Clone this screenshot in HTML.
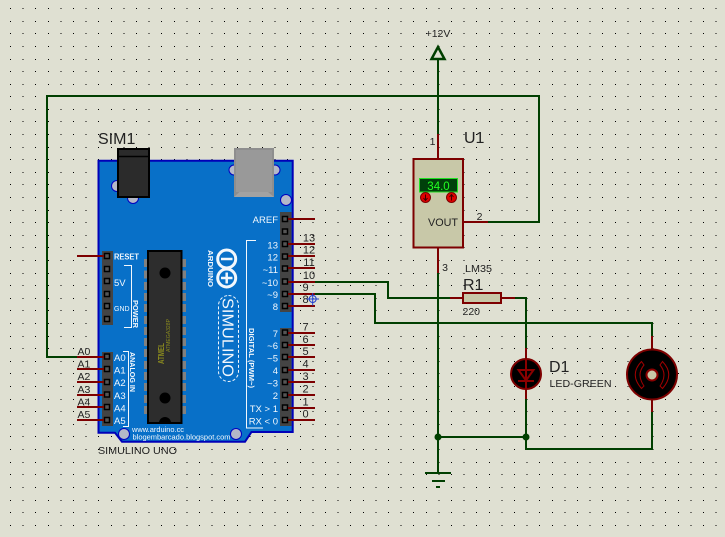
<!DOCTYPE html>
<html><head><meta charset="utf-8"><style>
html,body{margin:0;padding:0;background:#dfe0d2}
svg{display:block}
text{font-family:"Liberation Sans",sans-serif;fill:#222}
.w text{fill:#f2f7fc}
.g{fill:none;stroke:#003f00;stroke-width:2;shape-rendering:crispEdges}
.r{fill:none;stroke:#7d0000;stroke-width:2;shape-rendering:crispEdges}
</style></head><body>
<svg width="725" height="537" viewBox="0 0 725 537" xmlns="http://www.w3.org/2000/svg">
<rect width="725" height="537" fill="#dfe0d2"/>
<path shape-rendering="crispEdges" stroke="#000" stroke-width="1" stroke-dasharray="1 11.6" fill="none" d="M10 8.5H725M10 21.5H725M10 33.5H725M10 46.5H725M10 59.5H725M10 71.5H725M10 84.5H725M10 96.5H725M10 109.5H725M10 121.5H725M10 134.5H725M10 147.5H725M10 159.5H725M10 172.5H725M10 184.5H725M10 197.5H725M10 210.5H725M10 222.5H725M10 235.5H725M10 247.5H725M10 260.5H725M10 273.5H725M10 285.5H725M10 298.5H725M10 310.5H725M10 323.5H725M10 336.5H725M10 348.5H725M10 361.5H725M10 373.5H725M10 386.5H725M10 399.5H725M10 411.5H725M10 424.5H725M10 436.5H725M10 449.5H725M10 462.5H725M10 474.5H725M10 487.5H725M10 500.5H725M10 512.5H725M10 525.5H725"/>

<!-- wires -->
<g class="g">
<path d="M77 357H47V96H539V222H488"/>
<path d="M438 59V134"/>
<path d="M438 273V473"/>
<path d="M315 282H388V298H450"/>
<path d="M515 298H526V348"/>
<path d="M315 294H375V323H652V336"/>
<path d="M526 399V449H652V412"/>
<path d="M438 437H526"/>
<path d="M425 473H451M432 481H445M436 487H440"/>
</g>
<path d="M438 47L444.500 59H431.500Z" fill="none" stroke="#003f00" stroke-width="2.500"/>
<circle cx="438" cy="437" r="3.500" fill="#003f00"/>
<circle cx="526" cy="437" r="3.500" fill="#003f00"/>

<!-- board -->
<path d="M98.500 160.700H292.700V432H251.500L245 441.700H122L115 432.700H98.500Z" fill="#0870c8" stroke="#0000b8" stroke-width="2"/>
<g fill="#b4b8c8" stroke="#0000c0" stroke-width="1">
<circle cx="117" cy="186" r="5.500"/><circle cx="133" cy="198" r="5.500"/>
<circle cx="234" cy="170" r="5"/><circle cx="275" cy="170" r="5"/>
<circle cx="286" cy="200" r="5.500"/><circle cx="124" cy="434" r="5.500"/><circle cx="236" cy="434" r="5.500"/>
</g>
<!-- jack -->
<rect x="118" y="149" width="31" height="48" fill="#2b2b2b" stroke="#000" stroke-width="2"/>
<path d="M118 156.500H149" stroke="#000" stroke-width="1.500"/>
<!-- usb -->
<rect x="234" y="148" width="40" height="49" fill="#8e8e8e"/>
<rect x="236" y="150" width="36" height="42" fill="#999"/>
<path d="M234 197L239.500 192H268L274 197Z" fill="#a2a2a2"/>
<!-- chip -->
<g fill="#808080">
<rect x="144" y="259" width="4" height="8"/><rect x="144" y="270.500" width="4" height="8"/><rect x="144" y="282" width="4" height="8"/><rect x="144" y="293" width="4" height="8"/><rect x="144" y="304" width="4" height="8"/><rect x="144" y="316" width="4" height="8"/><rect x="144" y="327" width="4" height="8"/><rect x="144" y="338" width="4" height="8"/><rect x="144" y="349" width="4" height="8"/><rect x="144" y="361" width="4" height="8"/><rect x="144" y="372" width="4" height="8"/><rect x="144" y="383" width="4" height="8"/><rect x="144" y="395" width="4" height="8"/><rect x="144" y="406" width="4" height="8"/>
<rect x="182" y="259" width="4" height="8"/><rect x="182" y="270.500" width="4" height="8"/><rect x="182" y="282" width="4" height="8"/><rect x="182" y="293" width="4" height="8"/><rect x="182" y="304" width="4" height="8"/><rect x="182" y="316" width="4" height="8"/><rect x="182" y="327" width="4" height="8"/><rect x="182" y="338" width="4" height="8"/><rect x="182" y="349" width="4" height="8"/><rect x="182" y="361" width="4" height="8"/><rect x="182" y="372" width="4" height="8"/><rect x="182" y="383" width="4" height="8"/><rect x="182" y="395" width="4" height="8"/><rect x="182" y="406" width="4" height="8"/>
</g>
<rect x="148" y="251" width="33.500" height="172" fill="#2d2d2d" stroke="#000" stroke-width="2"/>
<circle cx="165" cy="273" r="5.500" fill="#000"/><circle cx="165" cy="398" r="5.500" fill="#000"/>
<path d="M159 423A6 6 0 0 1 171 423Z" fill="#000"/>
<text transform="translate(164,364) rotate(-90)" font-size="8.500" font-weight="bold" textLength="21" lengthAdjust="spacingAndGlyphs" style="fill:#8c8c1e">ATMEL</text>
<text transform="translate(170,352) rotate(-90)" font-size="5.500" textLength="33" lengthAdjust="spacingAndGlyphs" style="fill:#8c8c1e">ATMEGA328P</text>
<!-- headers -->
<g fill="#444">
<rect x="102" y="251" width="11" height="74"/><rect x="102" y="352" width="11" height="74"/>
<rect x="280" y="212" width="11.500" height="100"/><rect x="280" y="328" width="11.500" height="98"/>
</g>
<g fill="#555" stroke="#000" stroke-width="1.500">
<rect x="104.500" y="253.500" width="5" height="5"/><rect x="104.500" y="266.500" width="5" height="5"/><rect x="104.500" y="278.500" width="5" height="5"/><rect x="104.500" y="291.500" width="5" height="5"/><rect x="104.500" y="303.500" width="5" height="5"/><rect x="104.500" y="316.500" width="5" height="5"/>
<rect x="104.500" y="354" width="5" height="5"/><rect x="104.500" y="366.500" width="5" height="5"/><rect x="104.500" y="379.500" width="5" height="5"/><rect x="104.500" y="392" width="5" height="5"/><rect x="104.500" y="404.500" width="5" height="5"/><rect x="104.500" y="417.500" width="5" height="5"/>
<rect x="282.500" y="216.500" width="5" height="5"/><rect x="282.500" y="229" width="5" height="5"/><rect x="282.500" y="241.500" width="5" height="5"/><rect x="282.500" y="254" width="5" height="5"/><rect x="282.500" y="266" width="5" height="5"/><rect x="282.500" y="279" width="5" height="5"/><rect x="282.500" y="291.500" width="5" height="5"/><rect x="282.500" y="303.500" width="5" height="5"/>
<rect x="282.500" y="330" width="5" height="5"/><rect x="282.500" y="342.500" width="5" height="5"/><rect x="282.500" y="354.500" width="5" height="5"/><rect x="282.500" y="367.500" width="5" height="5"/><rect x="282.500" y="379.500" width="5" height="5"/><rect x="282.500" y="392.500" width="5" height="5"/><rect x="282.500" y="405" width="5" height="5"/><rect x="282.500" y="417.500" width="5" height="5"/>
</g>
<!-- pins -->
<g class="r">
<path d="M77 256H104M77 357H104M77 369H104M77 382H104M77 395H104M77 407H104M77 420H104"/>
<path d="M288 219H315M288 244H315M288 256H315M288 268H315M288 282H315M288 294H315M288 306H315"/>
<path d="M288 333H315M288 345H315M288 357H315M288 370H315M288 382H315M288 395H315M288 408H315M288 420H315"/>
<path d="M438 134V159M438 248V273M463 222H488"/>
<path d="M450 298H463M501 298H515M526 348V399M652 336V349M652 400V412"/>
</g>
<!-- board labels -->
<g class="w">
<g fill="none" stroke="#f2f7fc" stroke-width="1">
<path d="M124 265.500H131.500V327.500H124"/>
<path d="M123 351.500H128.500V426.500H123"/>
<path d="M256 240.500H246.500V428H263"/>
<rect x="218.500" y="295.500" width="20" height="86" rx="10" stroke-dasharray="3 2"/>
<circle cx="226.700" cy="259" r="9" stroke-width="3"/><circle cx="226.700" cy="278" r="9" stroke-width="3"/>
<path d="M221 259H232.500M221 278H232.500M226.700 272.500V283.500" stroke-width="2.500"/>
</g>
<text x="114" y="259.500" font-size="8" font-weight="bold" textLength="25" lengthAdjust="spacingAndGlyphs">RESET</text>
<text x="114" y="286" font-size="9.500">5V</text>
<text x="114" y="311" font-size="7">GND</text>
<text transform="translate(133,300) rotate(90)" font-size="7" font-weight="bold" textLength="28" lengthAdjust="spacingAndGlyphs">POWER</text>
<text x="114" y="361" font-size="9.500">A0</text><text x="114" y="373.500" font-size="9.500">A1</text><text x="114" y="386" font-size="9.500">A2</text><text x="114" y="399" font-size="9.500">A3</text><text x="114" y="411.500" font-size="9.500">A4</text><text x="114" y="424" font-size="9.500">A5</text>
<text transform="translate(130,352) rotate(90)" font-size="7" font-weight="bold" textLength="40" lengthAdjust="spacingAndGlyphs">ANALOG IN</text>
<text x="132" y="432" font-size="7" textLength="52" lengthAdjust="spacingAndGlyphs">www.arduino.cc</text>
<text x="132.500" y="439.500" font-size="7" textLength="98" lengthAdjust="spacingAndGlyphs">blogembarcado.blogspot.com</text>
<text transform="translate(208,250) rotate(90)" font-size="7" font-weight="bold" textLength="37" lengthAdjust="spacingAndGlyphs">ARDUINO</text>
<text transform="translate(222.500,298) rotate(90)" font-size="16" textLength="79" lengthAdjust="spacingAndGlyphs">SIMULINO</text>
<text transform="translate(249,328) rotate(90)" font-size="7" font-weight="bold" textLength="60" lengthAdjust="spacingAndGlyphs">DIGITAL (PWM~)</text>
<g font-size="9.500" text-anchor="end">
<text x="278" y="223">AREF</text><text x="278" y="248.500">13</text><text x="278" y="260.500">12</text><text x="278" y="273">~11</text><text x="278" y="286">~10</text><text x="278" y="298">~9</text><text x="278" y="310">8</text>
<text x="278" y="337">7</text><text x="278" y="349">~6</text><text x="278" y="361.500">~5</text><text x="278" y="374">4</text><text x="278" y="386.500">~3</text><text x="278" y="399">2</text><text x="278" y="412">TX &gt; 1</text><text x="278" y="424.500">RX &lt; 0</text>
</g>
</g>
<!-- outer labels -->
<text x="98" y="144" font-size="16">SIM1</text>
<text x="98" y="454" font-size="10.500" textLength="79" lengthAdjust="spacingAndGlyphs">SIMULINO UNO</text>
<g font-size="10.500">
<text x="77.500" y="355">A0</text><text x="77.500" y="367.500">A1</text><text x="77.500" y="380">A2</text><text x="77.500" y="393">A3</text><text x="77.500" y="405.500">A4</text><text x="77.500" y="418">A5</text>
</g>
<g font-size="11" text-anchor="middle">
<text x="309" y="241.500">13</text><text x="309" y="253.500">12</text><text x="309" y="266">11</text><text x="309" y="279">10</text><text x="305.500" y="291">9</text><text x="305.500" y="303">8</text>
<text x="305.500" y="330.700">7</text><text x="305.500" y="343">6</text><text x="305.500" y="355">5</text><text x="305.500" y="367.500">4</text><text x="305.500" y="380">3</text><text x="305.500" y="392.700">2</text><text x="305.500" y="405.500">1</text><text x="305.500" y="417.700">0</text>
</g>
<!-- cursor -->
<g fill="none" stroke="#2040d0" stroke-width="1"><circle cx="312.700" cy="299" r="3.500"/><path d="M306.500 299H319M312.700 293V305.500"/></g>
<!-- U1 -->
<rect x="413.500" y="159" width="49.500" height="88.500" fill="#c8c8a8" stroke="#7d0000" stroke-width="2"/>
<rect x="419.500" y="178.500" width="38" height="13.500" fill="#00400a" stroke="#22e022" stroke-width="1"/>
<text x="438.500" y="190" font-size="11.500" text-anchor="middle" style="fill:#22ff22">34.0</text>
<g fill="#e00000" stroke="#7d0000" stroke-width="1"><circle cx="425.500" cy="197.500" r="5"/><circle cx="451.500" cy="197.500" r="5"/></g>
<path d="M425.500 194.500V200M423.500 198L425.500 200.500L427.500 198M451.500 200.500V195M449.500 197L451.500 194.500L453.500 197" fill="none" stroke="#400000" stroke-width="1"/>
<text x="428" y="226" font-size="11" textLength="30" lengthAdjust="spacingAndGlyphs">VOUT</text>
<text x="464" y="143" font-size="16">U1</text>
<text x="432.500" y="145" font-size="10.500" text-anchor="middle">1</text>
<text x="479.500" y="220" font-size="10.500" text-anchor="middle">2</text>
<text x="445" y="271" font-size="10.500" text-anchor="middle">3</text>
<text x="438" y="37" font-size="10.500" text-anchor="middle">+12V</text>
<text x="465" y="272" font-size="10.500" textLength="27" lengthAdjust="spacingAndGlyphs">LM35</text>
<!-- R1 -->
<rect x="463" y="293" width="38" height="10" fill="#c8c8a8" stroke="#7d0000" stroke-width="2"/>
<text x="463" y="290" font-size="16">R1</text>
<text x="462.500" y="315" font-size="10.500">220</text>
<!-- LED -->
<circle cx="526" cy="374" r="15" fill="#000" stroke="#7d0000" stroke-width="2"/>
<path d="M526 359V389M518.500 370H533.500L526 380.500ZM518 381H534" fill="none" stroke="#8a0000" stroke-width="2"/>
<text x="549" y="372" font-size="16">D1</text>
<text x="549.500" y="387" font-size="10.500" textLength="62" lengthAdjust="spacingAndGlyphs">LED-GREEN</text>
<!-- motor -->
<circle cx="652" cy="374.500" r="25" fill="#000" stroke="#7d0000" stroke-width="2"/>
<circle cx="652" cy="375" r="5.500" fill="#c8c8a8" stroke="#8a0000" stroke-width="2"/>
<path d="M641.500 361.500Q629 374.500 641.500 388.500L644 386Q636 374.500 644 365ZM662.500 361.500Q675 374.500 662.500 388.500L660 386Q668 374.500 660 365Z" fill="none" stroke="#a00000" stroke-width="1"/>
</svg>
</body></html>
